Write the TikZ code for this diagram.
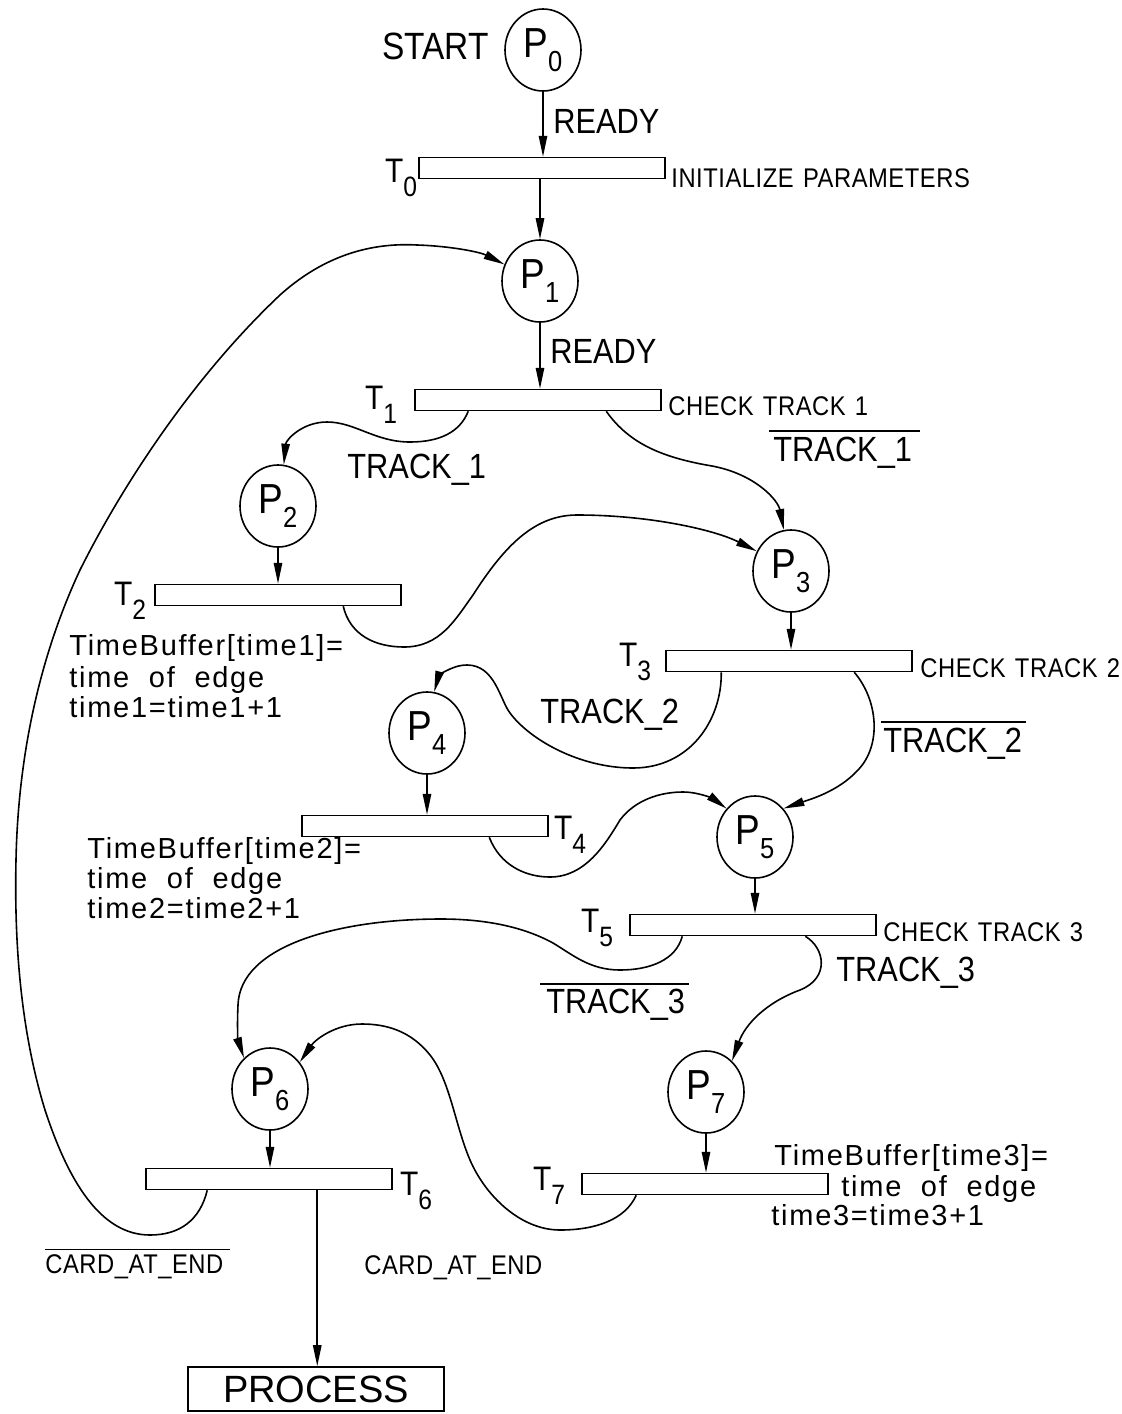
\documentclass[tikz,border=0pt]{standalone}
\usepackage{fontspec}
\setmainfont{Liberation Sans}
\newfontfamily\bigf[FakeStretch=0.88]{Liberation Sans}
\newfontfamily\smallf[FakeStretch=0.88,LetterSpace=2,WordSpace=1.3]{Liberation Sans}
\newfontfamily\codef[LetterSpace=6,WordSpace=2]{Liberation Sans}
\usetikzlibrary{shapes.geometric,arrows.meta,calc}
\newcommand\plabel[1]{\bigf\fontsize{21}{21}\selectfont P\raisebox{-7pt}{\fontsize{14.5}{14.5}\selectfont #1}}
\newcommand\tlabel[1]{\bigf\fontsize{17}{17}\selectfont T\raisebox{-7pt}{\fontsize{14}{14}\selectfont #1}}
\tikzset{
  place/.style={ellipse, draw, line width=0.8pt, minimum width=38pt, minimum height=41pt, inner sep=0pt},
  bar/.style={rectangle, draw, line width=0.75pt, minimum width=123pt, minimum height=10.5pt, inner sep=0pt},
  arr/.style={line width=0.8pt, -{Triangle[length=10.5pt,width=4.2pt]}},
  lab/.style={inner sep=0pt, anchor=west, font=\bigf\fontsize{17.5}{17.5}\selectfont},
  small/.style={inner sep=0pt, anchor=west, font=\smallf\fontsize{13.5}{13.5}\selectfont},
  code/.style={inner sep=0pt, anchor=base west, font=\codef\fontsize{14.5}{14.5}\selectfont},
  tl/.style={inner sep=0pt},
  ovl/.style={line width=0.8pt},
  procbox/.style={rectangle, draw, line width=0.8pt, minimum width=128pt, minimum height=22pt, inner sep=0pt, font=\fontsize{19}{19}\selectfont}
}
\begin{document}
\begin{tikzpicture}[x=0.5pt,y=-0.5pt]
\useasboundingbox (0,0) rectangle (1122,1414);
% places
\node[place] (P0) at (543,50) {\plabel{0}};
\node[place] (P1) at (540,281) {\plabel{1}};
\node[place] (P2) at (278,506) {\plabel{2}};
\node[place] (P3) at (791,571) {\plabel{3}};
\node[place] (P4) at (427,733) {\plabel{4}};
\node[place] (P5) at (755,837) {\plabel{5}};
\node[place] (P6) at (270,1089) {\plabel{6}};
\node[place] (P7) at (706,1092) {\plabel{7}};
% transitions
\node[bar] (T0) at (542,168) {};
\node[bar] (T1) at (538,400) {};
\node[bar] (T2) at (278,595) {};
\node[bar] (T3) at (789,661) {};
\node[bar] (T4) at (425,826) {};
\node[bar] (T5) at (753,925) {};
\node[bar] (T6) at (269,1179) {};
\node[bar] (T7) at (705,1184) {};
\node[procbox] (proc) at (316,1389) {PROCESS};
% transition labels
\node[tl] (t0l) at (401,178) {\tlabel{0}};
\node[tl] (t1l) at (381,405) {\tlabel{1}};
\node[tl] (t2l) at (130,601) {\tlabel{2}};
\node[tl] (t3l) at (635,662) {\tlabel{3}};
\node[tl] (t4l) at (570,835) {\tlabel{4}};
\node[tl] (t5l) at (597,928) {\tlabel{5}};
\node[tl] (t6l) at (416,1191) {\tlabel{6}};
\node[tl] (t7l) at (549,1186) {\tlabel{7}};
% text labels
\node[lab, font=\bigf\fontsize{19}{19}\selectfont] (start) at (382,46) {START};
\node[lab] (rd0) at (553,121) {READY};
\node[small] (init) at (671,178) {INITIALIZE PARAMETERS};
\node[lab] (rd1) at (550,351) {READY};
\node[small] (ck1) at (668,406) {CHECK TRACK 1};
\node[lab] (tr1b) at (773,453) {TRACK\_1};
\draw[ovl] ($(tr1b.north west)+(-4,-6)$) -- ($(tr1b.north east)+(8,-6)$);
\node[lab] (tr1) at (347,470) {TRACK\_1};
\node[code] (b1a) at (69,655) {TimeBuffer[time1]=};
\node[code] (b1b) at (69,687) {time of edge};
\node[code] (b1c) at (69,717) {time1=time1+1};
\node[small] (ck2) at (920,668) {CHECK TRACK 2};
\node[lab] (tr2) at (540,715) {TRACK\_2};
\node[lab] (tr2b) at (883,744) {TRACK\_2};
\draw[ovl] ($(tr2b.north west)+(-2,-6)$) -- ($(tr2b.north east)+(4,-6)$);
\node[code] (b2a) at (87,858) {TimeBuffer[time2]=};
\node[code] (b2b) at (87,888) {time of edge};
\node[code] (b2c) at (87,918) {time2=time2+1};
\node[small] (ck3) at (883,932) {CHECK TRACK 3};
\node[lab] (tr3) at (836,973) {TRACK\_3};
\node[lab] (tr3b) at (546,1005) {TRACK\_3};
\draw[ovl] ($(tr3b.north west)+(-6,-5)$) -- ($(tr3b.north east)+(4,-5)$);
\node[code] (b3a) at (774,1165) {TimeBuffer[time3]=};
\node[code] (b3b) at (841,1196) {time of edge};
\node[code] (b3c) at (771,1225) {time3=time3+1};
\node[small] (cae1) at (45,1267) {CARD\_AT\_END};
\draw[ovl] ($(cae1.north west)+(0,-5)$) -- ($(cae1.north east)+(6,-5)$);
\node[small] (cae2) at (364,1268) {CARD\_AT\_END};
% straight arcs
\draw[arr] (P0.south) -- (P0.south |- T0.north);
\draw[arr] (T0.south -| P1.north) -- (P1.north);
\draw[arr] (P1.south) -- (P1.south |- T1.north);
\draw[arr] (P2.south) -- (P2.south |- T2.north);
\draw[arr] (P3.south) -- (P3.south |- T3.north);
\draw[arr] (P4.south) -- (P4.south |- T4.north);
\draw[arr] (P5.south) -- (P5.south |- T5.north);
\draw[arr] (P6.south) -- (P6.south |- T6.north);
\draw[arr] (P7.south) -- (P7.south |- T7.north);
% start points of curved arcs
\coordinate (s12) at ($(T1.south west)+(54,0)$);
\coordinate (s13) at ($(T1.south west)+(192,0)$);
\coordinate (s23) at ($(T2.south west)+(189,0)$);
\coordinate (s34) at ($(T3.south west)+(56,0)$);
\coordinate (s35) at ($(T3.south west)+(189,0)$);
\coordinate (s45) at ($(T4.south west)+(188,0)$);
\coordinate (s56) at ($(T5.south west)+(53,0)$);
\coordinate (s57) at ($(T5.south west)+(176,0)$);
\coordinate (s61) at ($(T6.south west)+(62,0)$);
\coordinate (s6p) at ($(T6.south west)+(172,0)$);
\coordinate (s76) at ($(T7.south west)+(55,0)$);
% curved arcs
\draw[arr] (s12) .. controls (460,432) and (440,442) .. (410,442)
  .. controls (375,442) and (355,422) .. (327,422)
  .. controls (302,422) and (286,440) .. (P2.82);
\draw[arr] (s13) .. controls (630,445) and (665,458) .. (712,466)
  .. controls (755,474) and (778,500) .. (P3.100);
\draw[arr] (s23) .. controls (350,635) and (375,647) .. (404,647)
  .. controls (440,647) and (455,620) .. (473,595)
  .. controls (505,545) and (535,515) .. (577,515)
  .. controls (650,515) and (715,530) .. (P3.150);
\draw[arr] (s34) .. controls (722,720) and (690,768) .. (633,768)
  .. controls (580,768) and (530,740) .. (510,713)
  .. controls (500,700) and (495,665) .. (467,665)
  .. controls (450,665) and (438,678) .. (P4.80);
\draw[arr] (s35) .. controls (878,700) and (882,745) .. (858,770)
  .. controls (838,792) and (808,800) .. (P5.45);
\draw[arr] (s45) .. controls (500,865) and (525,877) .. (550,877)
  .. controls (585,877) and (605,845) .. (620,820)
  .. controls (635,800) and (660,792) .. (683,792)
  .. controls (700,792) and (715,800) .. (P5.135);
\draw[arr] (s56) .. controls (676,960) and (650,970) .. (620,970)
  .. controls (590,970) and (573,955) .. (553,943)
  .. controls (520,925) and (480,919) .. (441,919)
  .. controls (340,919) and (240,945) .. (238,1005)
  .. controls (237,1025) and (238,1040) .. (P6.130);
\draw[arr] (s57) .. controls (825,948) and (830,978) .. (800,990)
  .. controls (765,1003) and (745,1025) .. (P7.50);
\draw[arr] (s61) .. controls (200,1220) and (180,1235) .. (150,1235)
  .. controls (100,1235) and (68,1180) .. (45,1110)
  .. controls (22,1035) and (14,950) .. (16,860)
  .. controls (18,760) and (38,660) .. (80,570)
  .. controls (120,490) and (190,380) .. (280,295)
  .. controls (330,250) and (380,243) .. (417,245)
  .. controls (450,246) and (480,252) .. (P1.155);
\draw[arr] (s76) .. controls (625,1220) and (595,1230) .. (560,1230)
  .. controls (520,1230) and (485,1195) .. (470,1160)
  .. controls (455,1125) and (450,1080) .. (430,1055)
  .. controls (410,1030) and (385,1024) .. (362,1024)
  .. controls (335,1024) and (315,1040) .. (P6.42);
\draw[arr] (s6p) -- (s6p |- proc.north);
\end{tikzpicture}
\end{document}
